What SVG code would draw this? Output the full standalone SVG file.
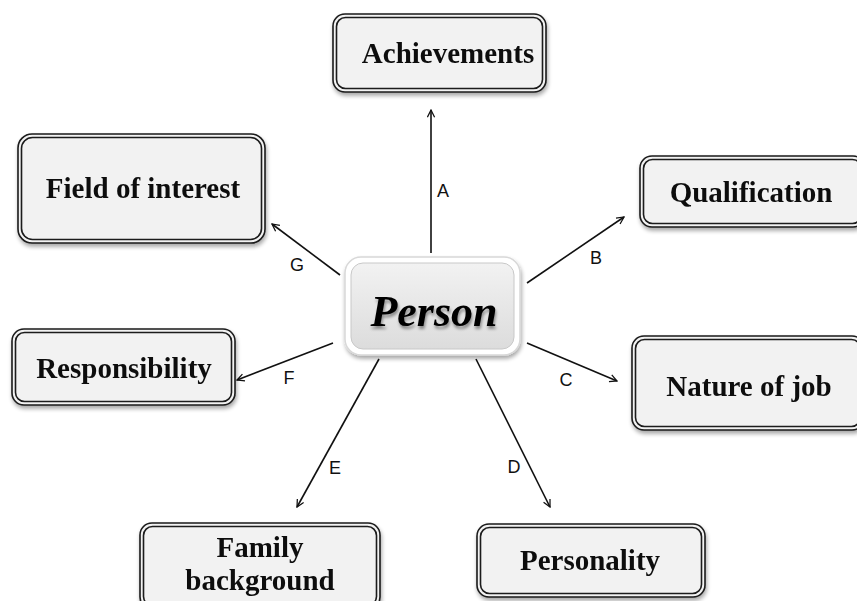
<svg xmlns="http://www.w3.org/2000/svg" width="857" height="601" viewBox="0 0 857 601">
<defs>
<style>
.outer{fill:#f2f2f2;stroke:#1a1a1a;stroke-width:1.6}
.inner{fill:none;stroke:#1a1a1a;stroke-width:1.6}
.lbl{font-family:"Liberation Serif","DejaVu Serif",serif;font-weight:bold;font-size:29px;fill:#111;text-anchor:middle}
.edge{stroke:#111;stroke-width:1.6;fill:none;marker-end:url(#ah)}
.el{font-family:"Liberation Sans",Arial,sans-serif;font-size:18px;fill:#111;text-anchor:middle}
</style>
<marker id="ah" viewBox="0 0 10 10" refX="9" refY="5" markerWidth="9" markerHeight="9" orient="auto" markerUnits="userSpaceOnUse">
<path d="M1,1 L9,5 L1,9" fill="none" stroke="#111" stroke-width="1.4"/>
</marker>
<filter id="sh" x="-10%" y="-10%" width="125%" height="130%">
<feGaussianBlur in="SourceAlpha" stdDeviation="2"/>
<feOffset dx="1" dy="3"/>
<feComponentTransfer><feFuncA type="linear" slope="0.35"/></feComponentTransfer>
<feMerge><feMergeNode/><feMergeNode in="SourceGraphic"/></feMerge>
</filter>
<filter id="tsh" x="-10%" y="-10%" width="125%" height="140%">
<feGaussianBlur in="SourceAlpha" stdDeviation="1.5"/>
<feOffset dx="1" dy="3"/>
<feComponentTransfer><feFuncA type="linear" slope="0.4"/></feComponentTransfer>
<feMerge><feMergeNode/><feMergeNode in="SourceGraphic"/></feMerge>
</filter>
<linearGradient id="pg" x1="0" y1="0" x2="0" y2="1">
<stop offset="0" stop-color="#f2f2f2"/>
<stop offset="1" stop-color="#dcdcdc"/>
</linearGradient>
</defs>
<rect width="857" height="601" fill="#fff"/>

<g id="connectors">
<line class="edge" x1="431" y1="253" x2="431" y2="110"/>
<line class="edge" x1="527" y1="283" x2="624" y2="217"/>
<line class="edge" x1="527" y1="343" x2="617" y2="381"/>
<line class="edge" x1="476" y1="359" x2="550" y2="507"/>
<line class="edge" x1="379" y1="359" x2="297" y2="507"/>
<line class="edge" x1="333" y1="343" x2="237" y2="380"/>
<line class="edge" x1="340" y1="275" x2="272" y2="224"/>
<text class="el" x="443" y="197">A</text>
<text class="el" x="596" y="264">B</text>
<text class="el" x="566" y="386">C</text>
<text class="el" x="514" y="473">D</text>
<text class="el" x="335" y="474">E</text>
<text class="el" x="289" y="384">F</text>
<text class="el" x="297" y="271">G</text>
</g>

<g id="achievements" filter="url(#sh)">
<rect class="outer" x="333" y="14" width="213" height="78" rx="12"/>
<rect class="inner" x="336.5" y="17.5" width="206" height="71" rx="9"/>
<text class="lbl" x="448" y="63">Achievements</text>
</g>

<g id="field-of-interest" filter="url(#sh)">
<rect class="outer" x="18" y="134" width="247" height="109" rx="14"/>
<rect class="inner" x="21.5" y="137.5" width="240" height="102" rx="11"/>
<text class="lbl" x="143" y="198">Field of  interest</text>
</g>

<g id="qualification" filter="url(#sh)">
<rect class="outer" x="640" y="156" width="225" height="71" rx="12"/>
<rect class="inner" x="643.5" y="159.5" width="218" height="64" rx="9"/>
<text class="lbl" x="751" y="202">Qualification</text>
</g>

<g id="responsibility" filter="url(#sh)">
<rect class="outer" x="12" y="329" width="223" height="76" rx="12"/>
<rect class="inner" x="15.5" y="332.5" width="216" height="69" rx="9"/>
<text class="lbl" x="124" y="378">Responsibility</text>
</g>

<g id="nature-of-job" filter="url(#sh)">
<rect class="outer" x="632" y="336" width="232" height="94" rx="12"/>
<rect class="inner" x="635.5" y="339.5" width="225" height="87" rx="9"/>
<text class="lbl" x="749" y="396">Nature of  job</text>
</g>

<g id="family-background" filter="url(#sh)">
<rect class="outer" x="140" y="523" width="240" height="86" rx="12"/>
<rect class="inner" x="143.5" y="526.5" width="233" height="79" rx="9"/>
<text class="lbl" x="260" y="557">Family</text>
<text class="lbl" x="260" y="590">background</text>
</g>

<g id="personality" filter="url(#sh)">
<rect class="outer" x="477" y="524" width="228" height="73" rx="12"/>
<rect class="inner" x="480.5" y="527.5" width="221" height="66" rx="9"/>
<text class="lbl" x="590" y="570">Personality</text>
</g>

<g id="person">
<rect x="345" y="257" width="175" height="98" rx="16" fill="#fff" stroke="#d8d8d8" stroke-width="1.5" filter="url(#sh)"/>
<rect x="351" y="263" width="163" height="86" rx="12" fill="url(#pg)" stroke="#c8c8c8" stroke-width="1"/>
<text x="434" y="326" filter="url(#tsh)" font-family="Liberation Serif,DejaVu Serif,serif" font-weight="bold" font-style="italic" font-size="44" fill="#000" text-anchor="middle">Person</text>
</g>
</svg>
